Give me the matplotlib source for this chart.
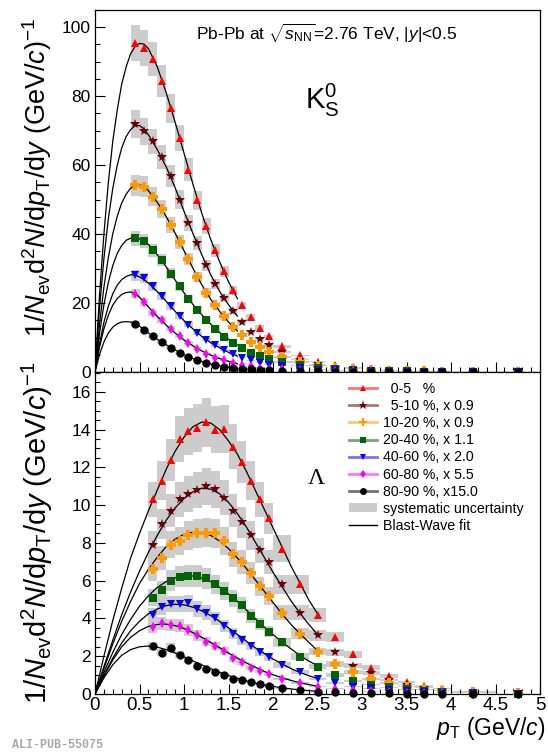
import matplotlib
matplotlib.use("Agg")
import matplotlib.pyplot as plt
from matplotlib.lines import Line2D
from matplotlib.patches import Patch
from matplotlib.ticker import MultipleLocator

plt.rcParams['font.family'] = ['Liberation Sans', 'DejaVu Sans']
plt.rcParams['mathtext.fontset'] = 'custom'
plt.rcParams['mathtext.rm'] = 'Liberation Sans'
plt.rcParams['mathtext.it'] = 'Liberation Sans:italic'
plt.rcParams['mathtext.bf'] = 'Liberation Sans:bold'

# ---- data ----
cent_labels = ['  0-5   %', '  5-10 %, x 0.9', '10-20 %, x 0.9', '20-40 %, x 1.1',
               '40-60 %, x 2.0', '60-80 %, x 5.5', '80-90 %, x15.0']
colors = ['#ff0000', '#6b0000', '#ff9900', '#006400', '#0000ff', '#ff00ff', '#000000']
markers = ['^', '*', 'P', 's', 'v', 'd', 'o']
msizes = [6, 7.5, 6.5, 5.5, 6, 5.5, 6]

# K0S
k0s_pt = [0.45, 0.55, 0.65, 0.75, 0.85, 0.95, 1.05, 1.15, 1.25, 1.35, 1.45, 1.55, 1.65, 1.75,
          1.85, 1.95, 2.1, 2.3, 2.5, 2.7, 2.9, 3.1, 3.3, 3.5, 3.7, 3.9, 4.25, 4.75]
k0s_bw = [0.1, 0.1, 0.1, 0.1, 0.1, 0.1, 0.1, 0.1, 0.1, 0.1, 0.1, 0.1, 0.1, 0.1,
          0.1, 0.1, 0.2, 0.2, 0.2, 0.2, 0.2, 0.2, 0.2, 0.2, 0.2, 0.2, 0.5, 0.5]
k0s_0_5 = [95.5, 94.0, 90.8, 84.5, 76.5, 67.9, 58.7, 49.8, 42.3, 35.3, 29.2, 23.7, 19.3, 15.9,
           12.8, 10.3, 7.4, 4.8, 3.0, 2.0, 1.35, 0.9, 0.6, 0.4, 0.27, 0.18, 0.1, 0.05]
k0s_5_10 = [71.9, 69.8, 66.9, 62.3, 56.8, 50.0, 43.2, 37.4, 30.9, 25.6, 21.4, 17.7, 14.5, 11.6,
            9.5, 7.7, 5.7, 3.6, 2.3, 1.5, 0.97, 0.65, 0.43, 0.29, 0.2, 0.14, 0.08, 0.04]
k0s_10_20 = [54.1, 53.8, 50.9, 47.3, 42.7, 37.7, 32.7, 27.5, 23.0, 19.3, 16.1, 13.0, 10.8, 8.7,
             7.2, 5.8, 4.3, 2.9, 1.8, 1.2, 0.78, 0.52, 0.34, 0.23, 0.15, 0.1, 0.06, 0.03]
k0s_20_40 = [38.8, 38.0, 35.3, 32.4, 28.5, 24.8, 21.3, 18.1, 15.2, 12.6, 10.1, 8.4, 6.9, 5.6,
             4.5, 3.7, 2.9, 1.9, 1.2, 0.8, 0.52, 0.34, 0.23, 0.15, 0.1, 0.07, 0.04, 0.02]
k0s_40_60 = [28.0, 27.3, 24.8, 22.0, 19.0, 16.2, 13.7, 11.3, 9.4, 7.7, 6.3, 5.1, 4.2, 3.4,
             2.7, 2.1, 1.7, 1.1, 0.7, 0.45, 0.3, 0.2, 0.13, 0.09, 0.06, 0.04, 0.025, 0.012]
k0s_60_80 = [22.7, 20.3, 17.1, 15.0, 12.6, 10.3, 8.4, 6.8, 5.3, 4.2, 3.4, 2.6, 2.1, 1.6,
             1.3, 1.0, 0.8, 0.5, 0.33, 0.22, 0.15, 0.1, 0.07, 0.05, 0.03, 0.02, 0.012, 0.006]
k0s_80_90 = [14.0, 12.1, 10.3, 8.7, 7.1, 5.6, 4.3, 3.4, 2.6, 1.9, 1.4, 1.2, 1.0, 0.75,
             0.6, 0.5, 0.4, 0.28, 0.2, 0.13, 0.09, 0.06, 0.04, 0.03, 0.02, 0.014, 0.008, 0.004]
k0s_sys = 0.055

# K0S Blast-Wave curves
k0s_fit_pt = [0, 0.05, 0.1, 0.15, 0.2, 0.25, 0.3, 0.35, 0.4, 0.45, 0.5, 0.55, 0.6,
              0.7, 0.8, 0.9, 1.0, 1.1, 1.2, 1.3, 1.4, 1.5, 1.6]
k0s_fit_0_5 = [0, 22, 40, 55, 67, 76, 83.5, 88.5, 92.3, 94.4, 95.3, 95.1, 93.8,
               88.5, 81, 72.5, 63.5, 54.5, 46, 38.5, 32, 26.2, 21.3]
k0s_fit_5_10 = [0, 18.3, 32.9, 44.5, 53.3, 60, 65, 68.3, 70.3, 71.4, 71.5, 70.5, 68.8,
                64.5, 59.5, 53.5, 46.6, 40.2, 34, 28.2, 23.4, 19.5, 16.2]
k0s_fit_10_20 = [0, 13.6, 24.6, 33.2, 40.1, 45.2, 49, 51.6, 53.3, 54.1, 54.3, 53.9, 52.6,
                 49.2, 45.1, 40.3, 35.2, 30.1, 25.3, 21.1, 17.6, 14.5, 11.9]
k0s_fit_20_40 = [0, 11, 19.5, 26, 30.9, 34.4, 36.7, 38.2, 38.8, 38.85, 38.6, 38.0, 37.0,
                 34.0, 30.5, 26.7, 23.0, 19.6, 16.6, 13.9, 11.5, 9.5, 7.8]
k0s_fit_40_60 = [0, 8.1, 14.4, 19.1, 22.7, 25.2, 26.8, 27.7, 28.2, 28.1, 27.6, 26.8, 25.8,
                 23.3, 20.5, 17.6, 14.9, 12.5, 10.3, 8.5, 7.0, 5.7, 4.6]
k0s_fit_60_80 = [0, 7.1, 12.5, 16.5, 19.4, 21.3, 22.5, 23.06, 23.2, 22.8, 21.7, 20.3, 18.9,
                 16.1, 13.6, 11.3, 9.3, 7.6, 6.1, 4.9, 3.9, 3.1, 2.4]
k0s_fit_80_90 = [0, 5.0, 8.7, 11.3, 13.0, 14.0, 14.5, 14.6, 14.5, 14.0, 13.3, 12.3, 11.3,
                 9.5, 7.9, 6.4, 5.0, 3.9, 3.0, 2.3, 1.75, 1.35, 1.05]

# Lambda
lam_pt = [0.65, 0.75, 0.85, 0.95, 1.05, 1.15, 1.25, 1.35, 1.45, 1.55, 1.65, 1.75, 1.85,
          1.95, 2.1, 2.3, 2.5, 2.7, 2.9, 3.1, 3.3, 3.5, 3.7, 3.9, 4.25, 4.75]
lam_bw = [0.1, 0.1, 0.1, 0.1, 0.1, 0.1, 0.1, 0.1, 0.1, 0.1, 0.1, 0.1, 0.1,
          0.1, 0.2, 0.2, 0.2, 0.2, 0.2, 0.2, 0.2, 0.2, 0.2, 0.2, 0.5, 0.5]
lam_0_5 = [10.3, 11.3, 12.4, 13.5, 13.9, 14.1, 14.4, 14.0, 14.05, 13.1, 12.3, 11.3, 10.3,
           9.3, 7.7, 5.8, 4.2, 3.0, 2.1, 1.4, 0.95, 0.65, 0.42, 0.27, 0.13, 0.05]
lam_5_10 = [7.9, 9.0, 9.7, 10.3, 10.6, 10.8, 11.0, 10.85, 10.4, 9.7, 9.1, 8.4, 7.6,
            7.0, 5.8, 4.3, 3.1, 2.2, 1.5, 1.1, 0.74, 0.5, 0.33, 0.2, 0.1, 0.04]
lam_10_20 = [6.6, 7.2, 7.9, 8.1, 8.4, 8.5, 8.55, 8.5, 8.1, 7.4, 7.0, 6.4, 5.7,
             5.2, 4.3, 3.2, 2.25, 1.6, 1.15, 0.8, 0.57, 0.39, 0.26, 0.17, 0.08, 0.03]
lam_20_40 = [5.1, 5.5, 6.0, 6.2, 6.25, 6.25, 6.13, 5.8, 5.45, 5.07, 4.7, 4.15, 3.7,
             3.3, 2.74, 1.98, 1.45, 1.0, 0.7, 0.5, 0.35, 0.25, 0.17, 0.11, 0.06, 0.02]
lam_40_60 = [4.2, 4.6, 4.75, 4.75, 4.8, 4.5, 4.3, 4.0, 3.6, 3.2, 2.86, 2.54, 2.2,
             1.94, 1.54, 1.15, 0.8, 0.57, 0.39, 0.3, 0.21, 0.15, 0.1, 0.07, 0.035, 0.015]
lam_60_80 = [3.57, 3.75, 3.66, 3.62, 3.4, 3.1, 2.77, 2.54, 2.28, 1.89, 1.68, 1.4, 1.22,
             1.06, 0.8, 0.57, 0.39, 0.28, 0.21, 0.14, 0.1, 0.07, 0.05, 0.03, 0.015, 0.006]
lam_80_90 = [2.54, 2.19, 2.46, 2.07, 1.8, 1.5, 1.33, 1.18, 1.0, 0.8, 0.74, 0.62, 0.51,
             0.42, 0.3, 0.21, 0.12, 0.09, 0.07, 0.04, 0.03, 0.02, 0.015, 0.01, 0.005, 0.002]
lam_sys = 0.09

lam_fit_pt = [0, 0.1, 0.2, 0.3, 0.4, 0.5, 0.6, 0.7, 0.8, 0.9, 1.0, 1.1, 1.2, 1.3,
              1.4, 1.5, 1.6, 1.7, 1.8, 1.9, 2.0, 2.1, 2.2, 2.3, 2.4, 2.5]
lam_fit_0_5 = [0, 2.0, 3.9, 5.6, 7.2, 8.5, 9.7, 10.8, 11.9, 12.85, 13.6, 14.15, 14.4, 14.35,
               14.0, 13.4, 12.7, 11.8, 10.8, 9.8, 8.8, 7.8, 6.8, 5.9, 5.0, 4.25]
lam_fit_5_10 = [0, 1.45, 2.85, 4.2, 5.4, 6.5, 7.5, 8.4, 9.2, 9.85, 10.35, 10.7, 10.9, 10.85,
                10.6, 10.15, 9.55, 8.85, 8.05, 7.25, 6.45, 5.7, 4.95, 4.3, 3.7, 3.15]
lam_fit_10_20 = [0, 1.35, 2.65, 3.85, 4.9, 5.85, 6.6, 7.25, 7.8, 8.2, 8.45, 8.57, 8.55, 8.4,
                 8.1, 7.7, 7.2, 6.65, 6.05, 5.45, 4.85, 4.25, 3.7, 3.2, 2.75, 2.3]
lam_fit_20_40 = [0, 1.15, 2.2, 3.15, 3.95, 4.65, 5.2, 5.65, 5.95, 6.15, 6.25, 6.25, 6.15, 5.95,
                 5.65, 5.3, 4.9, 4.45, 4.0, 3.55, 3.15, 2.75, 2.4, 2.05, 1.75, 1.5]
lam_fit_40_60 = [0, 1.0, 1.9, 2.7, 3.35, 3.85, 4.25, 4.5, 4.68, 4.75, 4.72, 4.6, 4.4, 4.15,
                 3.85, 3.5, 3.15, 2.8, 2.45, 2.15, 1.85, 1.6, 1.35, 1.15, 0.97, 0.82]
lam_fit_60_80 = [0, 0.95, 1.8, 2.5, 3.0, 3.35, 3.58, 3.68, 3.7, 3.62, 3.47, 3.25, 3.0, 2.73,
                 2.45, 2.17, 1.9, 1.65, 1.42, 1.2, 1.02, 0.86, 0.72, 0.6, 0.5, 0.41]
lam_fit_80_90 = [0, 0.85, 1.55, 2.05, 2.35, 2.5, 2.54, 2.48, 2.35, 2.17, 1.97, 1.75, 1.54, 1.34,
                 1.15, 0.98, 0.83, 0.7, 0.58, 0.48, 0.4, 0.33, 0.27, 0.22, 0.18, 0.14]

k0s_series = [k0s_0_5, k0s_5_10, k0s_10_20, k0s_20_40, k0s_40_60, k0s_60_80, k0s_80_90]
k0s_fits = [k0s_fit_0_5, k0s_fit_5_10, k0s_fit_10_20, k0s_fit_20_40,
            k0s_fit_40_60, k0s_fit_60_80, k0s_fit_80_90]
lam_series = [lam_0_5, lam_5_10, lam_10_20, lam_20_40, lam_40_60, lam_60_80, lam_80_90]
lam_fits = [lam_fit_0_5, lam_fit_5_10, lam_fit_10_20, lam_fit_20_40,
            lam_fit_40_60, lam_fit_60_80, lam_fit_80_90]

SYS_GRAY = '#cccccc'
W, H = 548, 754

fig = plt.figure(figsize=(W / 100, H / 100), dpi=100)
ax1 = fig.add_axes([95 / W, 1 - 372 / H, 445 / W, 362 / H])
ax2 = fig.add_axes([95 / W, 1 - 694 / H, 445 / W, 322 / H])


def draw_panel(ax, pt, bw, series, sysfrac, fit_pt, fits):
    for vals in series:
        err = [v * sysfrac for v in vals]
        ax.bar(pt, [2 * e for e in err], width=bw,
               bottom=[v - e for v, e in zip(vals, err)],
               color=SYS_GRAY, linewidth=0, zorder=1)
    for f in fits:
        ax.plot(fit_pt, f, color='black', lw=0.9, zorder=2)
    for vals, c, m, ms in zip(series, colors, markers, msizes):
        ax.plot(pt, vals, linestyle='none', marker=m, color=c, markersize=ms,
                markeredgewidth=0, zorder=3, clip_on=False)


draw_panel(ax1, k0s_pt, k0s_bw, k0s_series, k0s_sys, k0s_fit_pt, k0s_fits)
draw_panel(ax2, lam_pt, lam_bw, lam_series, lam_sys, lam_fit_pt, lam_fits)

ax1.set_xlim(0, 5)
ax1.set_ylim(0, 105)
ax2.set_xlim(0, 5)
ax2.set_ylim(0, 17.05)

ax1.yaxis.set_major_locator(MultipleLocator(20))
ax1.yaxis.set_minor_locator(MultipleLocator(5))
ax2.yaxis.set_major_locator(MultipleLocator(2))
ax2.yaxis.set_minor_locator(MultipleLocator(0.5))
for ax in (ax1, ax2):
    ax.xaxis.set_major_locator(MultipleLocator(0.5))
    ax.xaxis.set_minor_locator(MultipleLocator(0.1))
    ax.tick_params(which='both', direction='in', top=False, right=False)
    ax.tick_params(which='major', length=7.5, width=0.8)
    ax.tick_params(which='minor', length=3.8, width=0.8)
    ax.tick_params(axis='y', labelsize=12.5, pad=3)
    for s in ax.spines.values():
        s.set_linewidth(0.9)
ax1.tick_params(axis='x', labelbottom=False)
ax2.tick_params(axis='x', labelsize=13.5, pad=2)
ax2.set_xticks([0, 0.5, 1, 1.5, 2, 2.5, 3, 3.5, 4, 4.5, 5])
ax2.set_xticklabels(['0', '0.5', '1', '1.5', '2', '2.5', '3', '3.5', '4', '4.5', '5'])

ylab = r'1/$N_{\rm ev}$d$^{2}$$N$/d$p_{\rm T}$/d$y$ (GeV/$c$)$^{-1}$'
fig.text(37 / W, 1 - 177 / H, ylab, rotation=90, fontsize=19.5, ha='center', va='center')
fig.text(37 / W, 1 - 533 / H, ylab, rotation=90, fontsize=21, ha='center', va='center')

fig.text(545 / W, 1 - 729 / H, r'$p_{\rm T}$ (GeV/$c$)', fontsize=16.5, ha='right', va='center')

ax1.text(327 / W, 1 - 33 / H, r'Pb-Pb at $\sqrt{s_{\rm NN}}$=2.76 TeV, |$y$|<0.5',
         transform=fig.transFigure, fontsize=12.5, ha='center', va='center')
fig.text(322 / W, 1 - 100 / H, r'K$_{\rm S}^{0}$', fontsize=21, ha='center', va='center')
fig.text(316 / W, 1 - 478 / H, 'Λ', fontsize=17, ha='center', va='center',
         family=['Liberation Serif', 'DejaVu Serif'])

fig.text(12 / W, 1 - 745 / H, 'ALI-PUB-55075', fontsize=8.5, color='#a8a8a8',
         family=['Liberation Mono', 'DejaVu Sans Mono'], fontweight='bold',
         ha='left', va='center')

# legend
handles = []
for c, m, ms in zip(colors, markers, msizes):
    ln = Line2D([], [], color=c, lw=2, alpha=0.55)
    mk = Line2D([], [], color=c, marker=m, markersize=ms - 1, linestyle='none',
                markeredgewidth=0)
    handles.append((ln, mk))
handles.append(Patch(facecolor=SYS_GRAY, edgecolor='none'))
handles.append(Line2D([], [], color='black', lw=1))
labels = cent_labels + ['systematic uncertainty', 'Blast-Wave fit']
fig.legend(handles, labels, loc='upper left', bbox_to_anchor=(349 / W, 1 - 382 / H),
           frameon=False, fontsize=10.2, handlelength=2.0, handletextpad=0.4,
           labelspacing=0.22, borderpad=0, borderaxespad=0, handleheight=0.6)

fig.savefig('out.png', dpi=100)
